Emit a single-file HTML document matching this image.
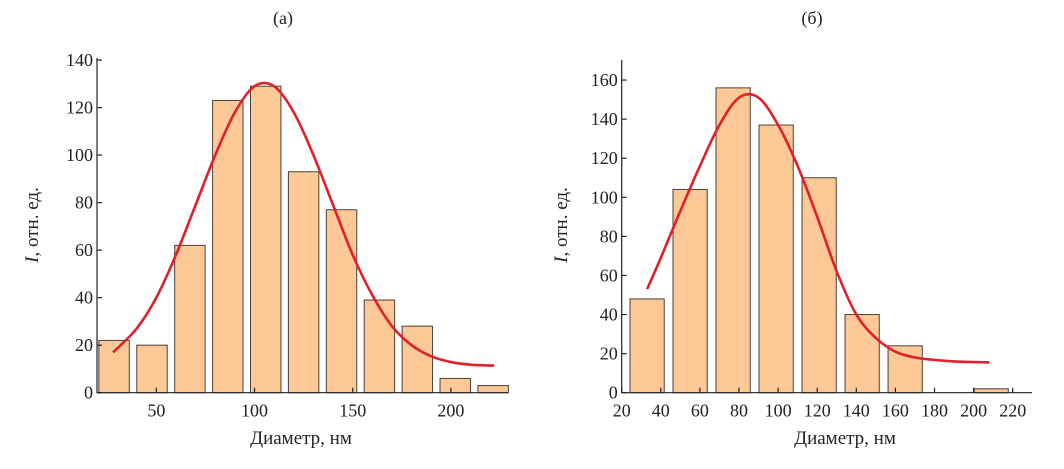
<!DOCTYPE html>
<html><head><meta charset="utf-8"><style>
html,body{margin:0;padding:0;background:#fff;}
svg{display:block;font-family:"Liberation Serif",serif;}
</style></head><body>
<svg id="c" width="1064" height="469" viewBox="0 0 1064 469"></svg>
<script>
// Panel (a)
const catsA = [28.5,47.8,67.1,86.4,105.7,125,144.3,163.6,182.9,202.2,221.5];
const valsA = [22,20,62,123,129,93,77,39,28,6,3];
const fitXA = [28,40,50,60,70,80,90,100,110,120,130,140,150,160,170,180,190,200,210,222];
const fitYA = [17,27,40,58,79,100,118,129,129,118,100,79,58,41,28,20,15.3,12.9,11.8,11.4];
const xTicksA = [50,100,150,200];
const yTicksA = [0,20,40,60,80,100,120,140];
// Panel (b)
const catsB = [33,55,77,99,121,143,165,187,209];
const valsB = [48,104,156,137,110,40,24,0,2];
const fitXB = [33,40,50,60,70,80,90,100,110,120,130,140,150,160,170,180,190,200,208];
const fitYB = [53,69,93,116,137,151,151,137,116,90,62,40,28,21,18,16.8,16,15.7,15.5];
const xTicksB = [20,40,60,80,100,120,140,160,180,200,220];
const yTicksB = [0,20,40,60,80,100,120,140,160];

const NS="http://www.w3.org/2000/svg";
const svg=document.getElementById('c');
function mk(tag,attrs,parent){const e=document.createElementNS(NS,tag);for(const k in attrs)e.setAttribute(k,attrs[k]);(parent||svg).appendChild(e);return e;}
function smooth(pts){let d="M"+pts[0][0]+","+pts[0][1];for(let i=0;i<pts.length-1;i++){const p0=pts[Math.max(0,i-1)],p1=pts[i],p2=pts[i+1],p3=pts[Math.min(pts.length-1,i+2)];const c1=[p1[0]+(p2[0]-p0[0])/6,p1[1]+(p2[1]-p0[1])/6],c2=[p2[0]-(p3[0]-p1[0])/6,p2[1]-(p3[1]-p1[1])/6];d+=" C"+c1[0]+","+c1[1]+" "+c2[0]+","+c2[1]+" "+p2[0]+","+p2[1];}return d;}

function panel(cfg){
  const g=mk('g',{});
  
  
  const X=v=>cfg.x0+(v-cfg.xmin)*cfg.kx;
  const Y=v=>cfg.y0-v*cfg.ky;
  cfg.cats.forEach((c,i)=>{
    if(cfg.vals[i]<=0)return;
    const r=mk('rect',{x:X(c-cfg.bw/2),y:Y(cfg.vals[i]),width:cfg.bw*cfg.kx,height:cfg.vals[i]*cfg.ky,fill:'#fcc896',stroke:'#4a4038','stroke-width':1},g);
    
    
  });
  const pts=cfg.fx.map((x,i)=>[X(x),Y(cfg.fy[i])]);
  const p=mk('path',{d:smooth(pts),fill:'none',stroke:'#e0202a','stroke-width':2.6},g);
  
  
  const ax=mk('path',{d:`M${cfg.x0},${cfg.yTop}V${cfg.y0}H${cfg.xEnd}`,fill:'none',stroke:'#222','stroke-width':1.2},g);
  
  
  cfg.yt.forEach(v=>{
    mk('line',{x1:cfg.x0,x2:cfg.x0+5,y1:Y(v),y2:Y(v),stroke:'#222','stroke-width':1.2},g);
    const t=mk('text',{x:cfg.x0-4,y:Y(v)+6,'text-anchor':'end','font-size':18,fill:'#222'},g);
    t.textContent=v;
    
    
  });
  cfg.xt.forEach(v=>{
    mk('line',{x1:X(v),x2:X(v),y1:cfg.y0,y2:cfg.y0-5,stroke:'#222','stroke-width':1.2},g);
    const t=mk('text',{x:X(v),y:cfg.y0+24,'text-anchor':'middle','font-size':18,fill:'#222'},g);
    t.textContent=v;
    
    
  });
  const xt=mk('text',{x:cfg.xtX,y:444,'text-anchor':'middle','font-size':19,fill:'#222'},g);
  xt.textContent='Диаметр,  нм';
  
  
  const yt=mk('text',{transform:`translate(${cfg.ytX},${cfg.ytY}) rotate(-90)`,'text-anchor':'middle','font-size':19,fill:'#222'},g);
  yt.innerHTML='<tspan font-style="italic">I</tspan>, отн. ед.';
  
  
  const tt=mk('text',{x:cfg.tX,y:24,'text-anchor':'middle','font-size':18,fill:'#222'},g);
  tt.textContent=cfg.title;
  
  
}
panel({name:'panel-a',cats:catsA,vals:valsA,fx:fitXA,fy:fitYA,xt:xTicksA,yt:yTicksA,x0:97,xmin:19.8,kx:1.964,y0:392.7,ky:2.376,yTop:58,xEnd:508,bw:15.5,xtX:301,ytX:38,ytY:225,tX:283,title:'(а)'});
panel({name:'panel-b',cats:catsB,vals:valsB,fx:fitXB,fy:fitYB,xt:xTicksB,yt:yTicksB,x0:621.7,xmin:20,kx:1.955,y0:392.7,ky:1.954,yTop:60,xEnd:1032,bw:17.5,xtX:845,ytX:567,ytY:225,tX:812,title:'(б)'});
</script>
</body></html>
